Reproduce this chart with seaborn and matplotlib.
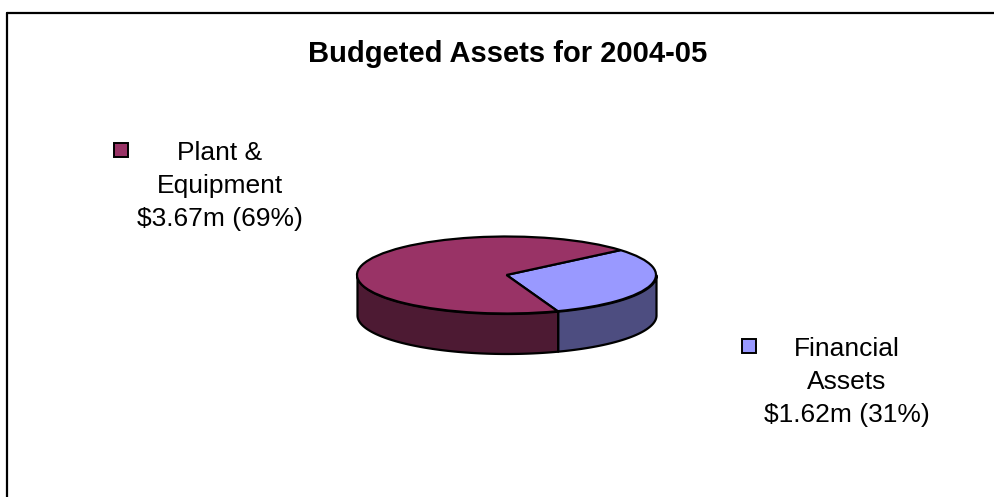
import numpy as np
import seaborn as sns
import matplotlib.pyplot as plt
from matplotlib.lines import Line2D

W, H = 995, 497

categories = ['Financial\nAssets\n$1.62m (31%)', 'Plant &\nEquipment\n$3.67m (69%)']
values = [1.62, 3.67]
title = 'Budgeted Assets for 2004-05'

sns.set_theme(style='white')
plt.rcParams['font.family'] = ['Liberation Sans', 'DejaVu Sans']

top_colors = sns.color_palette(['#9999FF', '#993366'])
side_colors = sns.color_palette(['#4D4D80', '#4D1A33'])


def fx(x):
    return x / W


def fy(y):
    return 1 - y / H


# pie ellipse in pixels: centre, half width, half height, wall depth
cx, cy, rx, ry, depth = 506.5, 275, 149.5, 38.5, 40
start_angle = -70

fig = plt.figure(figsize=(W / 100, H / 100), dpi=100, facecolor='white')
ax = fig.add_axes([0, 0, 1, 1])

wedges, _ = ax.pie(values, colors=top_colors, startangle=start_angle, radius=1,
                   wedgeprops={'edgecolor': 'black', 'linewidth': 1.6, 'zorder': 3})
ax.set_aspect('auto')
ax.set_xlim((0 - cx) / rx, (W - cx) / rx)
ax.set_ylim((cy - H) / ry, cy / ry)

# side wall of the 3d pie, below the top face
split = 360 + start_angle
d = depth / ry
for a0, a1, col in [(split, 360, side_colors[0]), (180, split, side_colors[1])]:
    t = np.radians(np.linspace(a0, a1, 80))
    ax.fill_between(np.cos(t), np.sin(t), np.sin(t) - d, facecolor=col,
                    edgecolor='black', linewidth=1.6, zorder=2)

fig.text(fx(507.5), fy(54), title, ha='center', va='center', fontsize=21,
         fontweight='bold', color='black')

label_pos = [(847, 382), (220, 186)]
marker_pos = [(749, 346), (121, 150)]
for label, (lx, ly), (mx, my), col in zip(categories, label_pos, marker_pos, top_colors):
    fig.text(fx(lx), fy(ly), label, ha='center', va='center', multialignment='center',
             fontsize=19, linespacing=1.47, color='black')
    fig.add_artist(Line2D([fx(mx)], [fy(my)], marker='s', markersize=9.5, markerfacecolor=col,
                          markeredgecolor='black', markeredgewidth=1.4, linestyle='none',
                          transform=fig.transFigure))

# frame only on the top and left, the rest is cut off
fig.add_artist(Line2D([fx(7), fx(W)], [fy(13), fy(13)], color='black', linewidth=1.6,
                      transform=fig.transFigure))
fig.add_artist(Line2D([fx(7), fx(7)], [fy(13), 0], color='black', linewidth=1.6,
                      transform=fig.transFigure))

fig.savefig('out.png', dpi=100)
